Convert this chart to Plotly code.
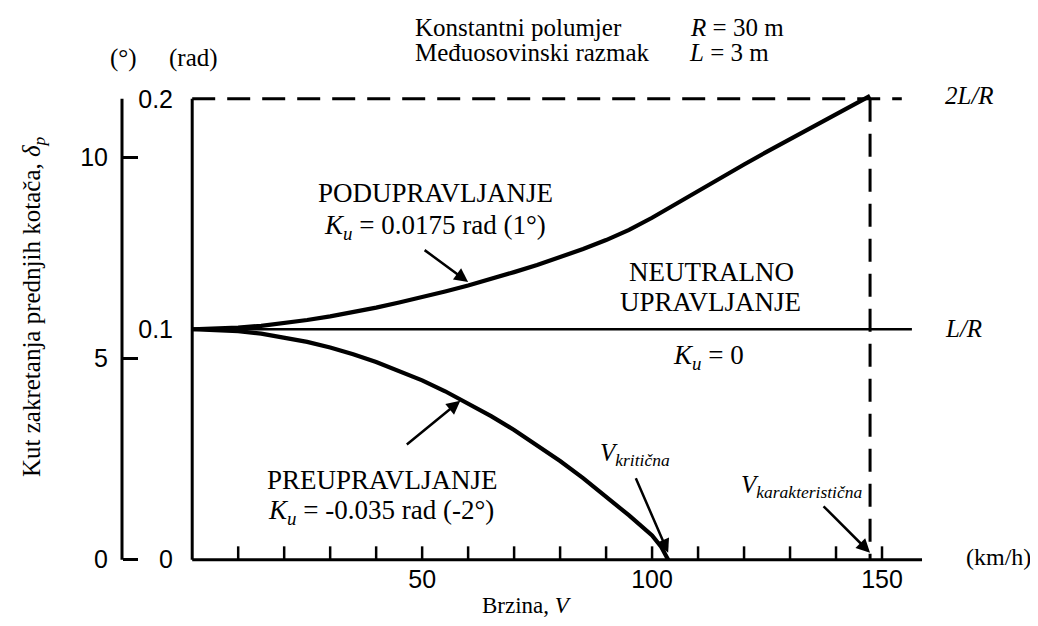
import math
import plotly.graph_objects as go

# ---------------- data ----------------
V_under = [0, 5, 10, 15, 20, 25, 30, 35, 40, 45, 50, 55, 60, 65, 70, 75, 80, 85, 90, 95,
           100, 105, 110, 115, 120, 125, 130, 135, 140, 145, 147.4]
d_under = [0.1000, 0.1002, 0.1007, 0.1015, 0.1026, 0.1040, 0.1056, 0.1074, 0.1094, 0.1116,
           0.1139, 0.1164, 0.1190, 0.1218, 0.1248, 0.1279, 0.1312, 0.1348, 0.1387, 0.1431,
           0.1484, 0.1543, 0.1602, 0.1659, 0.1715, 0.1771, 0.1825, 0.1879, 0.1932, 0.1987,
           0.2013]

V_over = [0, 5, 10, 15, 20, 25, 30, 35, 40, 45, 50, 55, 60, 65, 70, 75, 80, 85, 90, 95,
          100, 102, 103.5]
d_over = [0.1000, 0.0998, 0.0992, 0.0981, 0.0965, 0.0945, 0.0921, 0.0892, 0.0858, 0.0820,
          0.0778, 0.0731, 0.0679, 0.0623, 0.0563, 0.0498, 0.0428, 0.0354, 0.0275, 0.0192,
          0.0105, 0.0055, 0.0]

V_neutral = [0, 156.5]
d_neutral = [0.1, 0.1]

V_char = 147.4          # V karakteristična
V_crit = 103.5          # V kritična
d_2LR = 0.2
dash_end = 154.3
x_axis_end = 158.7

x_minor_ticks = list(range(10, 160, 10))
x_tick_vals = [50, 100, 150]
rad_tick_vals = [0, 0.1, 0.2]
rad_tick_text = ["0", "0.1", "0.2"]
deg_tick_vals = [0, 5, 10]

# ---------------- figure ----------------
SERIF = "Liberation Serif, Times New Roman, serif"
SANS = "Liberation Sans, Arial, sans-serif"

W, H = 1038, 626
# plot area in picture pixels (as measured on the reference)
ML, MR, MT, MB = 100, 110, 85, 64
PAGE_OFF = 8  # default body margin of the html page
PW, PH = W - ML - MR, H - MT - MB

y_range = [-0.001, 0.206]
deg_range = [v * 180 / math.pi for v in y_range]

fig = go.Figure()
fig.add_trace(go.Scatter(x=V_neutral, y=d_neutral, mode="lines",
                         line=dict(color="black", width=2.5), hoverinfo="skip"))
fig.add_trace(go.Scatter(x=V_under, y=d_under, mode="lines",
                         line=dict(color="black", width=4.2), hoverinfo="skip"))
fig.add_trace(go.Scatter(x=V_over, y=d_over, mode="lines",
                         line=dict(color="black", width=4.2), hoverinfo="skip"))
fig.add_trace(go.Scatter(x=[0, dash_end], y=[d_2LR, d_2LR], mode="lines",
                         line=dict(color="black", width=3, dash="23px,12px"), hoverinfo="skip"))
fig.add_trace(go.Scatter(x=[V_char, V_char], y=[d_2LR, 0], mode="lines",
                         line=dict(color="black", width=3, dash="23px,12px"), hoverinfo="skip"))
fig.add_trace(go.Scatter(x=[0], y=[0], yaxis="y2", mode="markers",
                         marker=dict(opacity=0), hoverinfo="skip"))

shapes = []
# x axis baseline and rad axis line
shapes.append(dict(type="line", xref="x", yref="y", x0=0, x1=x_axis_end, y0=0, y1=0,
                   line=dict(color="black", width=3)))
shapes.append(dict(type="line", xref="x", yref="y", x0=0, x1=0, y0=0, y1=d_2LR,
                   line=dict(color="black", width=3)))
# minor ticks on the speed axis
for v in x_minor_ticks:
    shapes.append(dict(type="line", xref="x", yref="y", x0=v, x1=v, y0=0, y1=0.0058,
                       line=dict(color="black", width=2.5)))
# degree axis line
DEG_POS = (122 - ML) / PW
shapes.append(dict(type="line", xref="paper", yref="y2", x0=DEG_POS, x1=DEG_POS,
                   y0=0, y1=d_2LR * 180 / math.pi, line=dict(color="black", width=3)))


def ann(text, x, y, size=27, xanchor="center", yanchor="middle", family=SERIF):
    return dict(text=text, x=x, y=y, xref="x", yref="y", showarrow=False,
                xanchor=xanchor, yanchor=yanchor,
                font=dict(family=family, size=size, color="black"))


def annp(text, px, py, size=25, xanchor="center", textangle=0):
    """Text placed in paper space from a pixel position of the picture."""
    return dict(text=text, x=(px - ML) / PW, y=(H - MB - py) / PH,
                xref="paper", yref="paper", showarrow=False, textangle=textangle,
                xanchor=xanchor, yanchor="middle",
                font=dict(family=SERIF, size=size, color="black"))


def arrow(x, y, ax, ay):
    return dict(text="", x=x, y=y, xref="x", yref="y", ax=ax, ay=ay,
                showarrow=True, arrowhead=2, arrowsize=1.1, arrowwidth=2.5,
                arrowcolor="black")


annotations = [
    annp("Konstantni polumjer", 413, 27, xanchor="left"),
    annp("<i>R</i> = 30 m", 688, 27, xanchor="left"),
    annp("Međuosovinski razmak", 413, 53, xanchor="left"),
    annp("<i>L</i> = 3 m", 687, 53, xanchor="left"),
    annp("(°)", 123, 58),
    annp("(rad)", 193, 58),
    annp("<i>2L/R</i>", 943, 95, xanchor="left"),
    annp("<i>L/R</i>", 943, 328, xanchor="left"),
    annp("(km/h)", 998, 557, size=24),
    annp("Brzina, <i>V</i>", 527, 605, size=23),
    annp("Kut zakretanja prednjih kotača, <i>δ<sub>p</sub></i>", 33, 307, textangle=-90),
    ann("NEUTRALNO", 113.0, 0.1249),
    ann("UPRAVLJANJE", 112.8, 0.1119),
    ann("<i>K<sub>u</sub></i> = 0", 112.2, 0.0881),
    ann("PODUPRAVLJANJE", 52.8, 0.1592),
    ann("<i>K<sub>u</sub></i> = 0.0175 rad (1°)", 52.8, 0.1445),
    ann("PREUPRAVLJANJE", 41.3, 0.0347),
    ann("<i>K<sub>u</sub></i> = -0.035 rad (-2°)", 41.1, 0.0208),
    ann("<i>V<sub>kritična</sub></i>", 96.2, 0.0456, 25),
    ann("<i>V<sub>karakteristična</sub></i>", 132.5, 0.0317, 25),
    arrow(60.0, 0.1205, -45, -33),
    arrow(58.3, 0.0690, -55, 45),
    arrow(V_crit, 0.003, -33, -76),
    arrow(V_char, 0.003, -48, -48),
]

fig.update_layout(
    width=W, height=H,
    margin=dict(l=ML - PAGE_OFF, r=MR + PAGE_OFF, t=MT - PAGE_OFF, b=MB + PAGE_OFF),
    paper_bgcolor="white", plot_bgcolor="white",
    showlegend=False,
    shapes=shapes,
    annotations=annotations,
    xaxis=dict(domain=[(183 - ML) / PW, 1], range=[-2, 160], showgrid=False,
               zeroline=False, showline=False, ticks="", tickvals=x_tick_vals,
               tickfont=dict(family=SANS, size=25, color="black")),
    yaxis=dict(range=y_range, showgrid=False, zeroline=False, showline=False,
               ticks="", tickvals=rad_tick_vals, ticktext=rad_tick_text,
               ticklabelstandoff=9,
               tickfont=dict(family=SANS, size=25, color="black")),
    yaxis2=dict(range=deg_range, overlaying="y", anchor="free", position=DEG_POS,
                side="left", showgrid=False, zeroline=False, showline=False,
                ticks="inside", ticklen=15, tickwidth=3, tickcolor="black",
                tickvals=deg_tick_vals, ticklabelstandoff=14,
                tickfont=dict(family=SANS, size=25, color="black")),
)

fig.write_html("out.html")
